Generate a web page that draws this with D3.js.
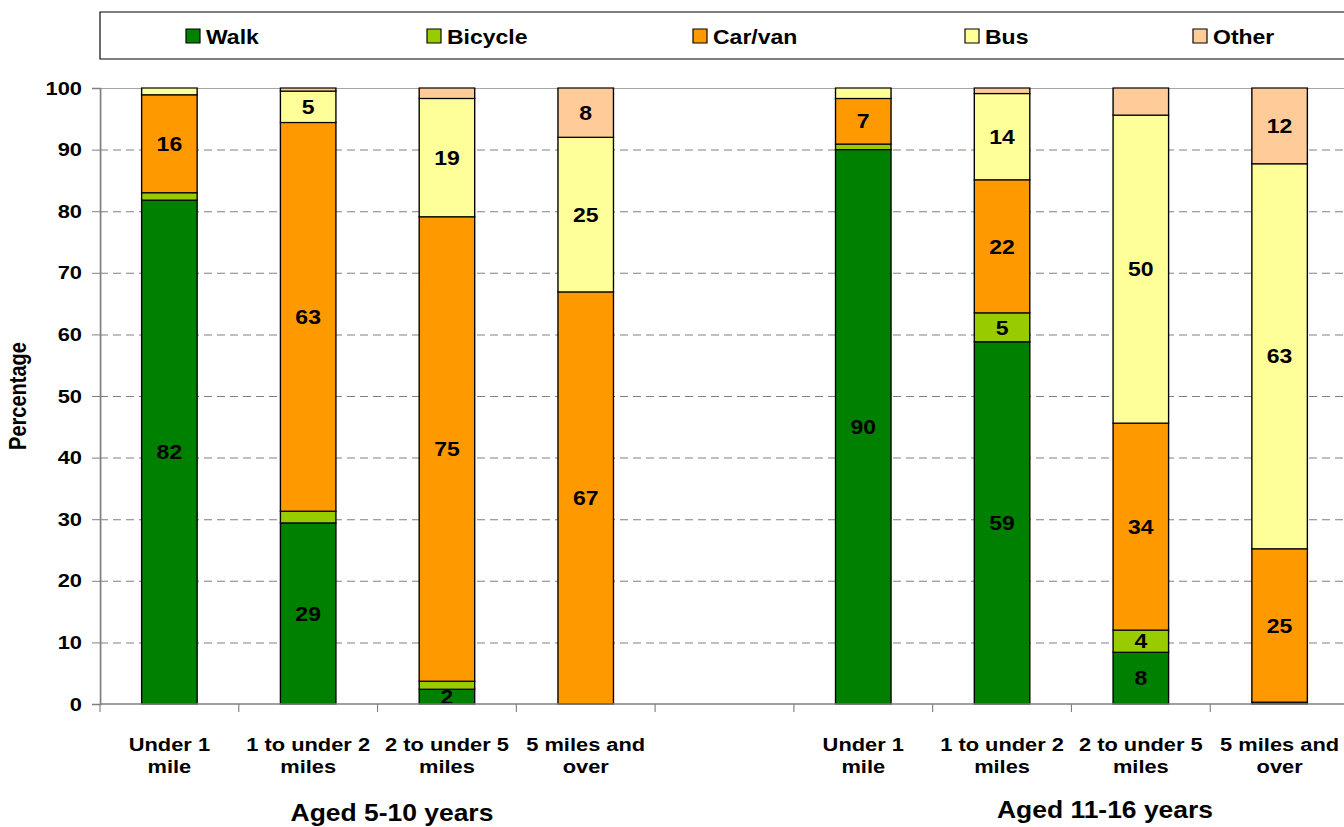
<!DOCTYPE html>
<html>
<head>
<meta charset="utf-8">
<script src="https://cdn.jsdelivr.net/npm/d3@7"></script>
<style>
  body { margin: 0; background: #fff; }
  svg { display: block; }
  text { font-family: "Liberation Sans", Arial, sans-serif; font-weight: bold; fill: #000; }
</style>
</head>
<body>
<div id="chart"></div>
<script>
// categories (the empty "gap" slot separates the two age groups)
var slots = ["a1", "a2", "a3", "a4", "gap", "b1", "b2", "b3", "b4"];
var slotLabels = [
  ["Under 1", "mile"], ["1 to under 2", "miles"], ["2 to under 5", "miles"], ["5 miles and", "over"],
  [],
  ["Under 1", "mile"], ["1 to under 2", "miles"], ["2 to under 5", "miles"], ["5 miles and", "over"]
];
var groups = ["Aged 5-10 years", "Aged 11-16 years"];
var series = ["Walk", "Bicycle", "Car/van", "Bus", "Other"];

// percentages
var walk    = [81.8, 29.4,  2.4,  0,    0, 90.0, 58.8,  8.4,  0.3];
var bicycle = [ 1.2,  1.9,  1.3,  0,    0,  0.9,  4.7,  3.6,  0];
var carvan  = [15.9, 63.1, 75.4, 66.9,  0,  7.4, 21.6, 33.6, 24.9];
var bus     = [ 1.1,  5.1, 19.2, 25.1,  0,  1.7, 14.0, 50.0, 62.5];
var other   = [ 0,    0.5,  1.7,  8.0,  0,  0,    0.9,  4.4, 12.3];

// smallest value that gets a label, per series
var labelMin = [2, 2, 2, 2, 5];

var yTicks = [0, 10, 20, 30, 40, 50, 60, 70, 80, 90, 100];

var colors = ["#008000", "#99CC00", "#FF9900", "#FFFF99", "#FFCC99"];

// the original is a little wide, so the drawing is stretched sideways
var K = 1.15,
    W = 1344, H = 827;
function sx(v) { return v / K; }

var margin = {top: 88, left: 100, right: -5, bottom: 123},
    plotH = H - margin.top - margin.bottom;

var svg = d3.select("#chart").append("svg")
    .attr("width", W).attr("height", H)
    .attr("viewBox", "0 0 " + sx(W) + " " + H)
    .attr("preserveAspectRatio", "none");

var x = d3.scaleBand().domain(slots).range([sx(margin.left), sx(W - margin.right)]).padding(0),
    y = d3.scaleLinear().domain([0, 100]).range([margin.top + plotH, margin.top]);

var rows = slots.map(function(s, i) {
  return {slot: s, Walk: walk[i], Bicycle: bicycle[i], "Car/van": carvan[i], Bus: bus[i], Other: other[i]};
});
var stacked = d3.stack().keys(series)(rows);

// legend
svg.append("rect")
    .attr("x", sx(100)).attr("y", 12)
    .attr("width", sx(1300)).attr("height", 47)
    .attr("fill", "#fff").attr("stroke", "#000").attr("stroke-width", 1);

var legendX = [186, 427, 693, 965, 1193];
var lg = svg.append("g").selectAll("g").data(series).enter().append("g")
    .attr("transform", function(d, i) { return "translate(" + sx(legendX[i]) + ",29)"; });
lg.append("rect")
    .attr("width", sx(14)).attr("height", 14)
    .attr("fill", function(d, i) { return colors[i]; })
    .attr("stroke", "#000").attr("stroke-width", 1);
lg.append("text")
    .attr("x", sx(20)).attr("y", 14.5)
    .style("font-size", "20px")
    .text(function(d) { return d; });

// gridlines
svg.append("g").selectAll("line").data(yTicks.filter(function(t) { return t > 0; })).enter().append("line")
    .attr("x1", sx(margin.left)).attr("x2", sx(W + 10))
    .attr("y1", function(d) { return y(d) + 0.5; }).attr("y2", function(d) { return y(d) + 0.5; })
    .attr("stroke", function(d) { return d == 100 ? "#a6a6a6" : "#808080"; })
    .attr("stroke-width", 1)
    .attr("stroke-dasharray", function(d) { return d == 100 ? null : sx(8) + "," + sx(5); });

// bars
var barW = x.bandwidth() * 0.4;
svg.append("g").selectAll("g").data(stacked).enter().append("g")
    .attr("fill", function(d, i) { return colors[i]; })
  .selectAll("rect").data(function(d) { return d.filter(function(p) { return p[1] - p[0] > 0; }); }).enter().append("rect")
    .attr("x", function(d) { return x(d.data.slot) + (x.bandwidth() - barW) / 2; })
    .attr("width", barW)
    .attr("y", function(d) { return y(d[1]); })
    .attr("height", function(d) { return y(d[0]) - y(d[1]); })
    .attr("stroke", "#000").attr("stroke-width", 1.2);

// value labels, clipped to the plot
svg.append("clipPath").attr("id", "plotclip").append("rect")
    .attr("x", sx(margin.left)).attr("y", margin.top)
    .attr("width", sx(W)).attr("height", plotH);

var labels = [];
stacked.forEach(function(s, k) {
  s.forEach(function(p) { if (p[1] - p[0] >= labelMin[k]) labels.push(p); });
});
svg.append("g").attr("clip-path", "url(#plotclip)")
  .selectAll("text").data(labels).enter().append("text")
    .attr("x", function(d) { return x(d.data.slot) + x.bandwidth() / 2; })
    .attr("y", function(d) { return y((d[0] + d[1]) / 2); })
    .attr("dy", "0.36em")
    .attr("text-anchor", "middle")
    .style("font-size", "20px")
    .text(function(d) { return Math.round(d[1] - d[0]); });

// y axis
var yAxis = svg.append("g")
    .attr("transform", "translate(" + sx(margin.left) + ",0)")
    .call(d3.axisLeft(y).tickValues(yTicks).tickSize(sx(8)).tickPadding(sx(10)));
yAxis.select(".domain").attr("stroke", "#808080").attr("stroke-width", 1.5);
yAxis.selectAll(".tick line").attr("stroke", "#808080");
yAxis.selectAll("text")
    .style("font-family", "'Liberation Sans', Arial, sans-serif")
    .style("font-weight", "bold")
    .style("font-size", "19px");

// x axis
var xAxis = svg.append("g")
    .attr("transform", "translate(0," + y(0) + ")");
xAxis.append("line")
    .attr("x1", sx(margin.left)).attr("x2", sx(W + 10))
    .attr("stroke", "#808080").attr("stroke-width", 1.5);
xAxis.selectAll(".tk").data(slots.concat(["end"])).enter().append("line")
    .attr("class", "tk")
    .attr("x1", function(d, i) { return x.range()[0] + i * x.step(); })
    .attr("x2", function(d, i) { return x.range()[0] + i * x.step(); })
    .attr("y1", 0).attr("y2", 8)
    .attr("stroke", "#808080");

var catText = xAxis.selectAll(".cat").data(slots).enter().append("text")
    .attr("class", "cat")
    .attr("text-anchor", "middle")
    .attr("transform", function(d) { return "translate(" + (x(d) + x.bandwidth() / 2) + ",47)"; })
    .style("font-size", "19px");
catText.selectAll("tspan").data(function(d, i) { return slotLabels[i]; }).enter().append("tspan")
    .attr("x", 0)
    .attr("y", function(d, i) { return i * 22.5; })
    .text(function(d) { return d; });

// group titles
var groupX = [392, 1105], groupY = [821, 818];
svg.append("g").selectAll("text").data(groups).enter().append("text")
    .attr("x", function(d, i) { return sx(groupX[i]); })
    .attr("y", function(d, i) { return groupY[i]; })
    .attr("text-anchor", "middle")
    .style("font-size", "23px")
    .text(function(d) { return d; });

// y title
svg.append("text")
    .attr("transform", "translate(" + sx(26) + "," + (margin.top + plotH / 2) + ") rotate(-90)")
    .attr("text-anchor", "middle")
    .style("font-size", "20px")
    .text("Percentage");
</script>
</body>
</html>
